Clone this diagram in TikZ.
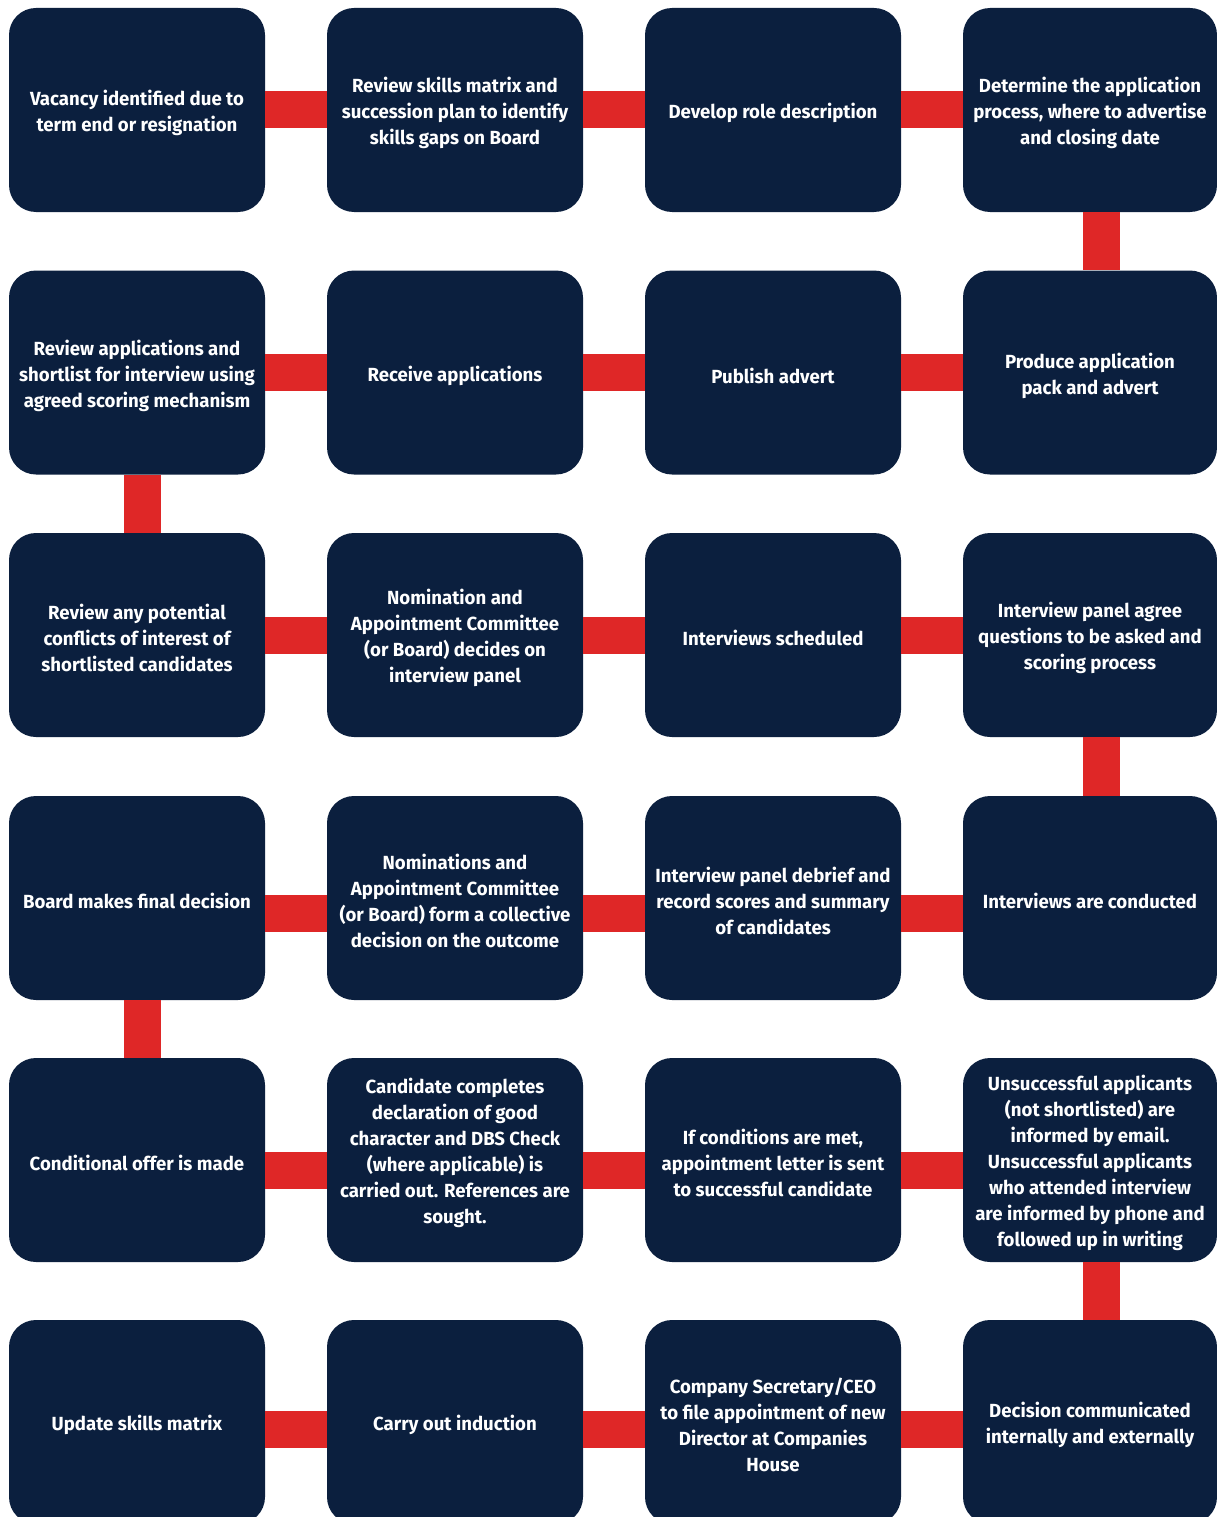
\documentclass[tikz,border=0pt]{standalone}
\usepackage{fontspec}
\newfontfamily\boxfont{Fira Sans}[FakeStretch=0.98]
\definecolor{navy}{HTML}{0B1F3E}
\definecolor{flowred}{HTML}{DF2727}
\newcommand\fl{\rule{0pt}{22pt}}
\begin{document}
\begin{tikzpicture}[x=1pt,y=-1pt,
  stage/.style={draw=none, fill=navy, rounded corners=27pt, minimum width=256pt, minimum height=204pt,
    inner sep=0pt, align=center, text=white, font=\boxfont\bfseries\fontsize{19}{26}\selectfont},
  stagelast/.style={stage, minimum width=254pt},
  conn/.style={draw=flowred, line width=37pt}]
\clip (0,0) rectangle (1217,1517);
\fill[white] (0,0) rectangle (1217,1517);
% row 1
\node[stage] (a1) at (137,110) {\fl Vacancy identified due to\\term end or resignation};
\node[stage] (a2) at (455,110) {\fl Review skills matrix and\\succession plan to identify\\skills gaps on Board};
\node[stage] (a3) at (773,110) {\fl Develop role description};
\node[stagelast] (a4) at (1090,110) {\fl Determine the application\\process, where to advertise\\and closing date};
% row 2
\node[stage] (b1) at (137,372.5) {\fl Review applications and\\shortlist for interview using\\agreed scoring mechanism};
\node[stage] (b2) at (455,372.5) {\fl Receive applications};
\node[stage] (b3) at (773,372.5) {\fl Publish advert};
\node[stagelast] (b4) at (1090,372.5) {\fl Produce application\\pack and advert};
% row 3
\node[stage] (c1) at (137,635) {\fl Review any potential\\conflicts of interest of\\shortlisted candidates};
\node[stage] (c2) at (455,635) {\fl Nomination and\\Appointment Committee\\(or Board) decides on\\interview panel};
\node[stage] (c3) at (773,635) {\fl Interviews scheduled};
\node[stagelast] (c4) at (1090,635) {\fl Interview panel agree\\questions to be asked and\\scoring process};
% row 4
\node[stage] (d1) at (137,898) {\fl Board makes final decision};
\node[stage] (d2) at (455,898) {\fl Nominations and\\Appointment Committee\\(or Board) form a collective\\decision on the outcome};
\node[stage] (d3) at (773,898) {\fl Interview panel debrief and\\record scores and summary\\of candidates};
\node[stagelast] (d4) at (1090,898) {\fl Interviews are conducted};
% row 5
\node[stage] (e1) at (137,1160) {\fl Conditional offer is made};
\node[stage] (e2) at (455,1160) {\fl Candidate completes\\declaration of good\\character and DBS Check\\(where applicable) is\\carried out. References are\\sought.\\~};
\node[stage] (e3) at (773,1160) {\fl If conditions are met,\\appointment letter is sent\\to successful candidate};
\node[stagelast] (e4) at (1090,1160) {\fl Unsuccessful applicants\\(not shortlisted) are\\informed by email.\\Unsuccessful applicants\\who attended interview\\are informed by phone and\\followed up in writing};
% row 6
\node[stage] (f1) at (137,1422) {\fl Update skills matrix};
\node[stage] (f2) at (455,1422) {\fl Carry out induction};
\node[stage] (f3) at (773,1422) {\fl Company Secretary/CEO\\to file appointment of new\\Director at Companies\\House};
\node[stagelast] (f4) at (1090,1422) {\fl Decision communicated\\internally and externally};
% connectors
\draw[conn] (a1.east) -- (a2.west);
\draw[conn] (a2.east) -- (a3.west);
\draw[conn] (a3.east) -- (a4.west);
\draw[conn] ([xshift=11.5pt]a4.south) -- ([xshift=11.5pt]b4.north);
\draw[conn] (b4.west) -- (b3.east);
\draw[conn] (b3.west) -- (b2.east);
\draw[conn] (b2.west) -- (b1.east);
\draw[conn] ([xshift=5pt]b1.south) -- ([xshift=5pt]c1.north);
\draw[conn] (c1.east) -- (c2.west);
\draw[conn] (c2.east) -- (c3.west);
\draw[conn] (c3.east) -- (c4.west);
\draw[conn] ([xshift=11.5pt]c4.south) -- ([xshift=11.5pt]d4.north);
\draw[conn] ([yshift=-15pt]d4.west) -- ([yshift=-15pt]d3.east);
\draw[conn] ([yshift=-15pt]d3.west) -- ([yshift=-15pt]d2.east);
\draw[conn] ([yshift=-15pt]d2.west) -- ([yshift=-15pt]d1.east);
\draw[conn] ([xshift=5pt]d1.south) -- ([xshift=5pt]e1.north);
\draw[conn] ([yshift=-10pt]e1.east) -- ([yshift=-10pt]e2.west);
\draw[conn] ([yshift=-10pt]e2.east) -- ([yshift=-10pt]e3.west);
\draw[conn] ([yshift=-10pt]e3.east) -- ([yshift=-10pt]e4.west);
\draw[conn] ([xshift=11.5pt]e4.south) -- ([xshift=11.5pt]f4.north);
\draw[conn] ([yshift=-7pt]f4.west) -- ([yshift=-7pt]f3.east);
\draw[conn] ([yshift=-7pt]f3.west) -- ([yshift=-7pt]f2.east);
\draw[conn] ([yshift=-7pt]f2.west) -- ([yshift=-7pt]f1.east);
\end{tikzpicture}
\end{document}
